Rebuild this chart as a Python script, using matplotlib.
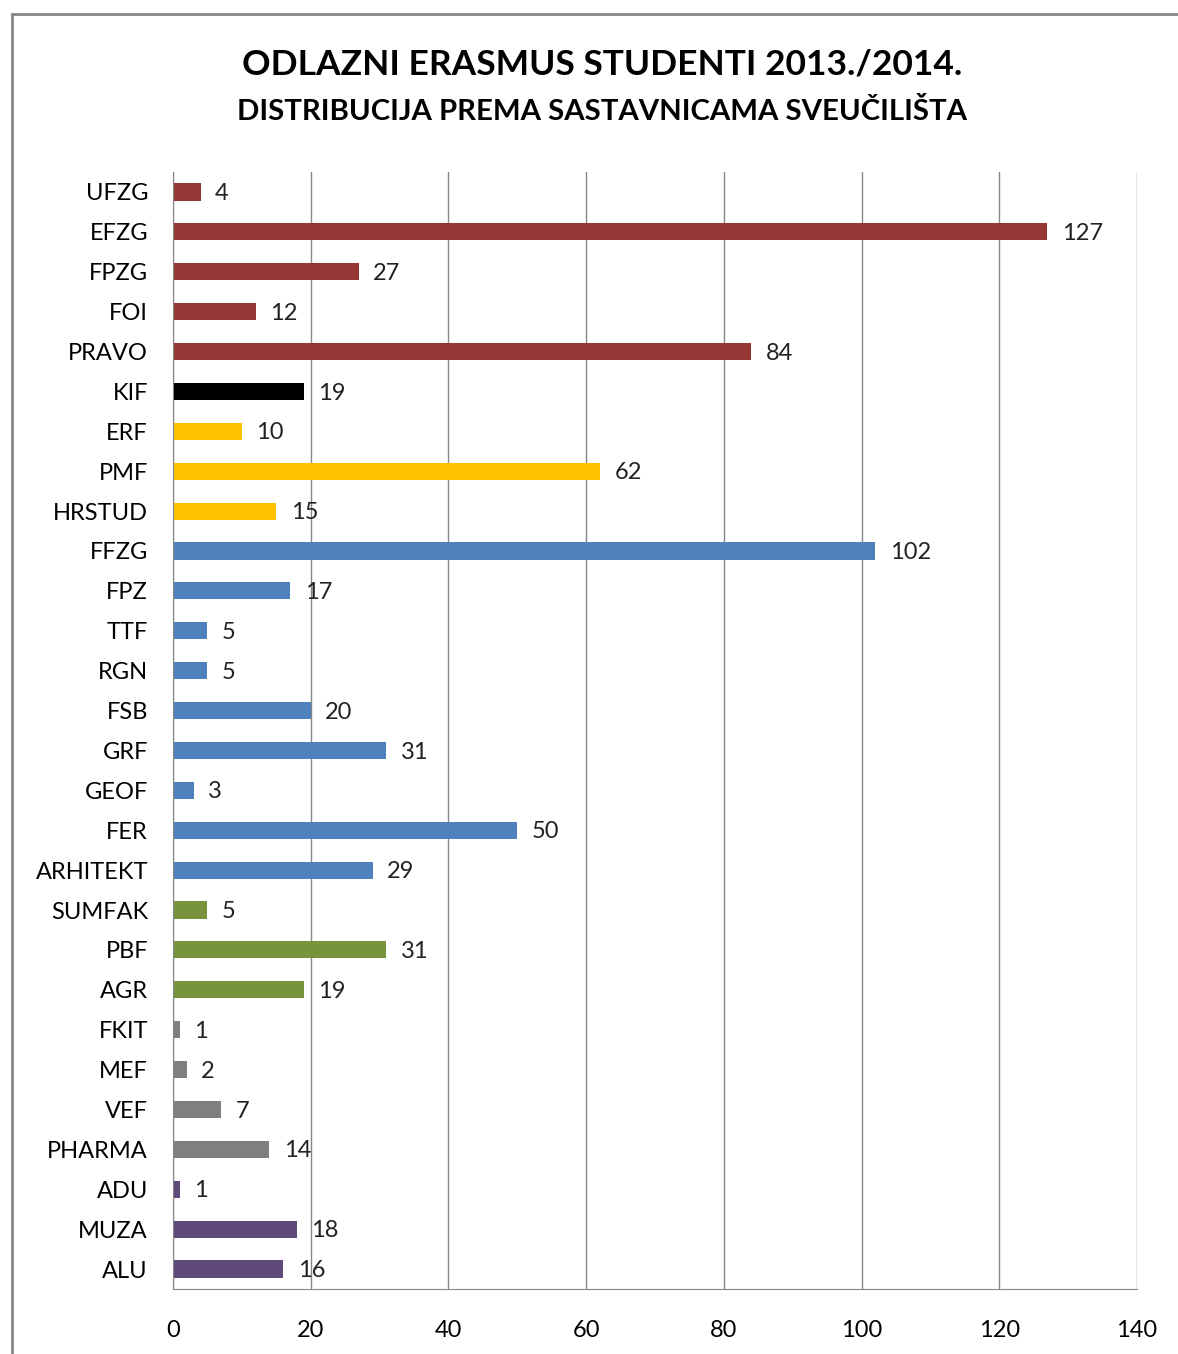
import matplotlib
matplotlib.use("Agg")
import matplotlib.pyplot as plt
from matplotlib.patches import Rectangle

# Faculties, top to bottom, with number of outgoing students
faculties = ["UFZG", "EFZG", "FPZG", "FOI", "PRAVO", "KIF", "ERF", "PMF", "HRSTUD",
             "FFZG", "FPZ", "TTF", "RGN", "FSB", "GRF", "GEOF", "FER", "ARHITEKT",
             "SUMFAK", "PBF", "AGR", "FKIT", "MEF", "VEF", "PHARMA", "ADU", "MUZA", "ALU"]
students = [4, 127, 27, 12, 84, 19, 10, 62, 15,
            102, 17, 5, 5, 20, 31, 3, 50, 29,
            5, 31, 19, 1, 2, 7, 14, 1, 18, 16]
groups = ["social"] * 5 + ["kif"] + ["human"] * 3 + ["tech"] * 9 + ["bio"] * 3 + ["med"] * 4 + ["art"] * 3
x_ticks = [0, 20, 40, 60, 80, 100, 120, 140]

group_colors = {
    "social": "#953735",
    "kif": "#000000",
    "human": "#FFC000",
    "tech": "#4F81BD",
    "bio": "#77933C",
    "med": "#7F7F7F",
    "art": "#604A7B",
}

plt.rcParams["font.family"] = ["Lato", "DejaVu Sans"]

fig = plt.figure(figsize=(11.78, 13.54), dpi=100)

# outer chart border
fig.patches.append(Rectangle((12 / 1178, -0.05), 1.2, 1 - 14 / 1354 + 0.05,
                             transform=fig.transFigure, fill=False,
                             edgecolor="#868686", linewidth=2))

ax = fig.add_axes([173 / 1178, 1 - 1289 / 1354, (1137 - 173) / 1178, (1289 - 172) / 1354])

ypos = list(range(len(faculties)))
colors = [group_colors[g] for g in groups]
ax.barh(ypos, students, height=0.43, color=colors)

# value labels next to each bar
for y, v in zip(ypos, students):
    ax.text(v + 2.1, y + 0.04, str(v), va="center", ha="left", fontsize=17, color="#222222")

ax.set_xlim(0, 140)
ax.set_ylim(len(faculties) - 0.5, -0.5)
ax.set_xticks(x_ticks)
ax.set_yticks(ypos)
ax.set_yticklabels(faculties)
ax.tick_params(axis="x", length=0, pad=22, labelsize=17)
ax.tick_params(axis="y", length=0, pad=18, labelsize=17)

ax.grid(axis="x", color="#868686", linewidth=1)
ax.set_axisbelow(True)
ax.spines["top"].set_visible(False)
ax.spines["right"].set_visible(False)
ax.spines["left"].set_color("#868686")
ax.spines["bottom"].set_color("#868686")

fig.text(0.511, 1 - 65 / 1354, "ODLAZNI ERASMUS STUDENTI 2013./2014.",
         ha="center", va="center", fontsize=25.5, fontweight="bold")
fig.text(0.511, 1 - 111 / 1354, "DISTRIBUCIJA PREMA SASTAVNICAMA SVEUČILIŠTA",
         ha="center", va="center", fontsize=21.2, fontweight="bold")

fig.savefig("out.png", dpi=100)
